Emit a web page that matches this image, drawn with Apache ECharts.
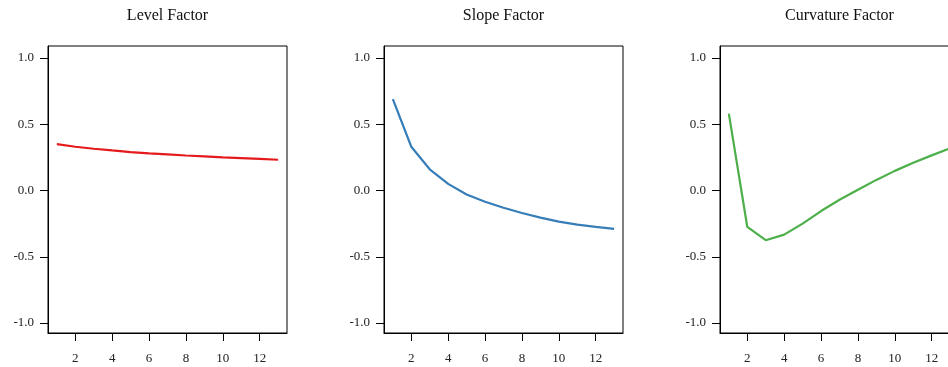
<!DOCTYPE html>
<html>
<head>
<meta charset="utf-8">
<script src="https://cdn.jsdelivr.net/npm/echarts@6/dist/echarts.min.js"></script>
<style>
html, body { margin: 0; padding: 0; background: #fff; overflow: hidden; }
/* a bit wider than the window: the third panel runs off the right edge */
#main { width: 964px; height: 367px; }
</style>
</head>
<body>
<div id="main"></div>
<script>
// maturities on the x axis
var maturities = [1, 2, 3, 4, 5, 6, 7, 8, 9, 10, 11, 12, 13];
var xTicks = [2, 4, 6, 8, 10, 12];
var yTicks = [-1.0, -0.5, 0.0, 0.5, 1.0];

// factor loadings
var levelValues = [0.35, 0.33, 0.315, 0.302, 0.29, 0.28, 0.272, 0.264, 0.257, 0.25, 0.244, 0.238, 0.232];
var slopeValues = [0.69, 0.33, 0.16, 0.05, -0.03, -0.085, -0.13, -0.17, -0.205, -0.235, -0.258, -0.275, -0.29];
var curvatureValues = [0.58, -0.275, -0.375, -0.333, -0.25, -0.155, -0.07, 0.005, 0.08, 0.148, 0.21, 0.265, 0.318];

var titles = ["Level Factor", "Slope Factor", "Curvature Factor"];
var colors = ["#e41a1c", "#377eb8", "#4daf4a"];
var allValues = [levelValues, slopeValues, curvatureValues];

var FONT = "'Liberation Serif', 'DejaVu Serif', serif";
var panelLeft = [48, 384, 720];
var panelW = 239;

function pairs(xs, ys) {
	var out = [];
	for (var i = 0; i < xs.length; i++) out.push([xs[i], ys[i]]);
	return out;
}

var grids = [], xAxes = [], yAxes = [], series = [], titleList = [];
for (var k = 0; k < 3; k++) {
	grids.push({
		left: panelLeft[k], top: 46, width: panelW, height: 287,
		show: true, borderColor: "#000", borderWidth: 1, backgroundColor: "transparent"
	});
	titleList.push({
		text: titles[k],
		left: panelLeft[k] + panelW / 2, top: 8,
		padding: 0,
		textAlign: "center",
		textStyle: { fontFamily: FONT, fontSize: 16, fontWeight: "normal", color: "#111" }
	});
	xAxes.push({
		gridIndex: k, type: "value", min: 0.52, max: 13.48,
		splitLine: { show: false },
		axisLine: { show: true, onZero: false, lineStyle: { color: "#000", width: 1 } },
		axisTick: { show: true, inside: false, length: 8, customValues: xTicks, lineStyle: { color: "#000" } },
		axisLabel: { customValues: xTicks, margin: 19, fontFamily: FONT, fontSize: 13, color: "#222" }
	});
	yAxes.push({
		gridIndex: k, type: "value", min: -1.075, max: 1.09,
		splitLine: { show: false },
		axisLine: { show: true, onZero: false, lineStyle: { color: "#000", width: 1 } },
		axisTick: { show: true, inside: false, length: 8, customValues: yTicks, lineStyle: { color: "#000" } },
		axisLabel: {
			customValues: yTicks, margin: 14, fontFamily: FONT, fontSize: 13, color: "#222",
			formatter: function (v) { return v.toFixed(1); }
		}
	});
	series.push({
		type: "line", xAxisIndex: k, yAxisIndex: k,
		data: pairs(maturities, allValues[k]),
		showSymbol: false, symbol: "none",
		lineStyle: { color: colors[k], width: 2.2 },
		animation: false
	});
}

var chart = echarts.init(document.getElementById("main"));
chart.setOption({
	animation: false,
	title: titleList,
	grid: grids,
	xAxis: xAxes,
	yAxis: yAxes,
	series: series
});
</script>
</body>
</html>
